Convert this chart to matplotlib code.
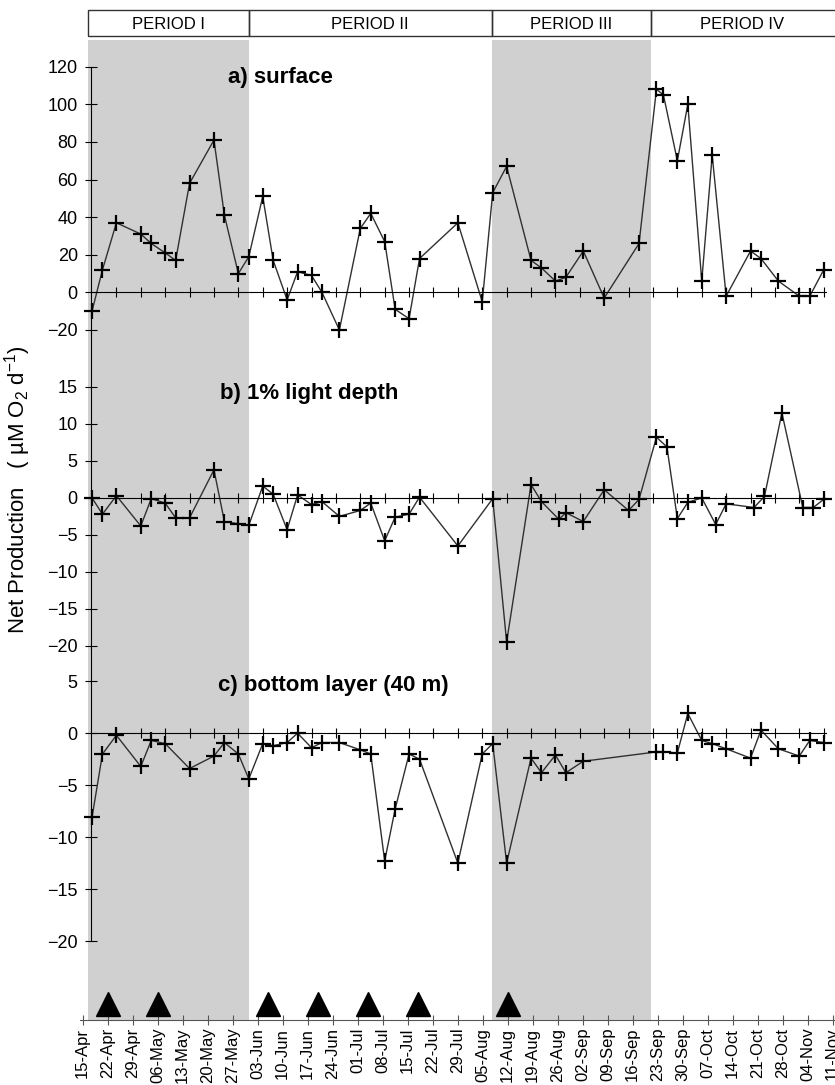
import numpy as np
import pandas as pd
import matplotlib
matplotlib.use('Agg')
import matplotlib.pyplot as plt
import matplotlib.dates as mdates
from matplotlib.patches import Rectangle

plt.rcParams['font.family'] = ['Liberation Sans', 'DejaVu Sans']
plt.rcParams['mathtext.default'] = 'regular'

YEAR = '1999-'

# sampling dates and net production (uM O2 / d)
dates_a = ['04-15', '04-18', '04-22', '04-29', '05-02', '05-06', '05-09', '05-13', '05-20', '05-23',
           '05-27', '05-30', '06-03', '06-06', '06-10', '06-13', '06-17', '06-20', '06-25', '07-01',
           '07-04', '07-08', '07-11', '07-15', '07-18', '07-29', '08-05', '08-08', '08-12', '08-19',
           '08-22', '08-26', '08-29', '09-03', '09-09', '09-19', '09-24', '09-26', '09-30', '10-03',
           '10-07', '10-10', '10-14', '10-21', '10-24', '10-29', '11-04', '11-07', '11-11']
surface = [-10, 12, 37, 31, 26, 21, 17, 58, 81, 41,
           10, 19, 51, 17, -4, 11, 9, 0, -20, 34,
           42, 27, -9, -14, 18, 37, -5, 53, 67, 17,
           13, 6, 8, 22, -3, 26, 108, 105, 70, 100,
           6, 73, -2, 22, 18, 6, -2, -2, 12]

dates_b = ['04-15', '04-18', '04-22', '04-29', '05-02', '05-06', '05-09', '05-13', '05-20', '05-23',
           '05-27', '05-30', '06-03', '06-06', '06-10', '06-13', '06-17', '06-20', '06-25', '07-01',
           '07-04', '07-08', '07-11', '07-15', '07-18', '07-29', '08-08', '08-12', '08-19', '08-22',
           '08-27', '08-29', '09-03', '09-09', '09-16', '09-19', '09-24', '09-27', '09-30', '10-03',
           '10-07', '10-11', '10-14', '10-22', '10-25', '10-30', '11-05', '11-08', '11-11']
light1 = [0, -2.2, 0.3, -3.8, -0.1, -0.7, -2.7, -2.7, 3.8, -3.2,
          -3.5, -3.7, 1.6, 0.5, -4.3, 0.4, -0.9, -0.5, -2.5, -1.7,
          -0.7, -5.8, -2.6, -2.2, 0.1, -6.5, -0.1, -19.5, 1.8, -0.5,
          -2.9, -2.0, -3.2, 1.1, -1.7, -0.2, 8.2, 6.9, -2.8, -0.6,
          0.0, -3.6, -0.8, -1.3, 0.2, 11.5, -1.3, -1.3, -0.2]

dates_c = ['04-15', '04-18', '04-22', '04-29', '05-02', '05-06', '05-13', '05-20', '05-23', '05-27',
           '05-30', '06-03', '06-06', '06-10', '06-13', '06-17', '06-20', '06-25', '07-01', '07-04',
           '07-08', '07-11', '07-15', '07-18', '07-29', '08-05', '08-08', '08-12', '08-19', '08-22',
           '08-26', '08-29', '09-03', '09-24', '09-26', '09-30', '10-03', '10-07', '10-10', '10-14',
           '10-21', '10-24', '10-29', '11-04', '11-07', '11-11']
bottom40 = [-8.1, -2.0, -0.2, -3.2, -0.7, -1.0, -3.4, -2.2, -0.9, -2.0,
            -4.4, -1.0, -1.2, -0.9, 0.0, -1.4, -0.9, -0.9, -1.6, -2.0,
            -12.3, -7.3, -2.0, -2.5, -12.5, -2.0, -1.0, -12.5, -2.4, -3.8,
            -2.1, -3.8, -2.7, -1.8, -1.8, -1.9, 1.9, -0.7, -1.0, -1.5,
            -2.4, 0.3, -1.5, -2.2, -0.7, -0.9]

event_dates = ['04-22', '05-06', '06-06', '06-20', '07-04', '07-18', '08-12']

period_names = ['PERIOD I', 'PERIOD II', 'PERIOD III', 'PERIOD IV']
period_edges = [1.5, 46.5, 114.5, 159.0, 230.0]   # days after 15-Apr
shaded = [True, False, True, False]


def to_num(lst):
    return mdates.date2num(pd.to_datetime([YEAR + s for s in lst]))


base = to_num(['04-15'])[0]
weeks = base + np.arange(0, 211, 7)

W, H = 835, 1085
fig = plt.figure(figsize=(W / 100, H / 100), dpi=100)


def px_axes(x0, x1, y0, y1):
    return fig.add_axes([x0 / W, 1 - y1 / H, (x1 - x0) / W, (y1 - y0) / H])


# background: shading, date axis, event triangles
bg = px_axes(80, 835, 40, 1020)
bg.set_xlim(base - 0.76, base + 210.64)
bg.set_ylim(0, 1)
for i in range(4):
    if shaded[i]:
        bg.axvspan(base + period_edges[i], base + period_edges[i + 1], color='#d0d0d0', lw=0)
for s in ['left', 'right', 'top']:
    bg.spines[s].set_visible(False)
bg.spines['bottom'].set_color('#555555')
bg.set_yticks([])
bg.set_xticks(weeks)
bg.xaxis.set_major_formatter(mdates.DateFormatter('%d-%b'))
bg.tick_params(axis='x', direction='inout', length=7, color='#555555',
               labelsize=12, labelrotation=90, pad=2)
bg.plot(to_num(event_dates), np.full(len(event_dates), 0.0165), ls='none',
        marker='^', ms=17, color='black', clip_on=False)

# header boxes
hd = px_axes(80, 835, 10, 36)
hd.set_xlim(bg.get_xlim())
hd.set_ylim(0, 1)
hd.axis('off')
for i, name in enumerate(period_names):
    x0 = base + period_edges[i]
    x1 = base + period_edges[i + 1]
    hd.add_patch(Rectangle((x0, 0), x1 - x0, 1, fill=False, ec='#333333', lw=1, clip_on=False))
    xc = (x0 + min(x1, base + 210)) / 2
    hd.text(xc, 0.45, name, ha='center', va='center', fontsize=12)

# panels
panels = [
    (dates_a, surface, (62, 333), (-21.6, 122.5), np.arange(-20, 121, 20), (-21.6, 120), 'a) surface', 228, 77),
    (dates_b, light1, (333, 648), (-20.3, 22.3), np.arange(-20, 16, 5), (-20.3, 22.3), 'b) 1% light depth', 220, 393),
    (dates_c, bottom40, (648, 1020), (-27.6, 8.2), np.arange(-20, 6, 5), (-20, 8.2), 'c) bottom layer (40 m)', 218, 685),
]
for dts, vals, (y0, y1), ylim, yt, sb, title, tx, ty in panels:
    ax = px_axes(91, 826, y0, y1)
    ax.patch.set_visible(False)
    ax.set_xlim(base - 0.29, base + 210.66)
    ax.set_ylim(*ylim)
    ax.spines['top'].set_visible(False)
    ax.spines['right'].set_visible(False)
    ax.spines['bottom'].set_position(('data', 0))
    ax.spines['left'].set_bounds(*sb)
    ax.set_xticks(weeks[1:])
    ax.tick_params(axis='x', direction='inout', length=7, labelbottom=False)
    ax.set_yticks(yt)
    ax.tick_params(axis='y', direction='inout', length=9, labelsize=13, pad=5)
    ax.plot(to_num(dts), vals, color='#303030', lw=1, marker='+', ms=11, mew=1.6,
            mec='black', clip_on=False)
    fig.text(tx / W, 1 - ty / H, title, fontsize=16, fontweight='bold', va='center', ha='left')

fig.text(18 / W, 1 - 490 / H, 'Net Production   ( µM O$_2$ d$^{-1}$)', rotation=90,
         fontsize=16, ha='center', va='center')

fig.savefig('out.png', dpi=100)
